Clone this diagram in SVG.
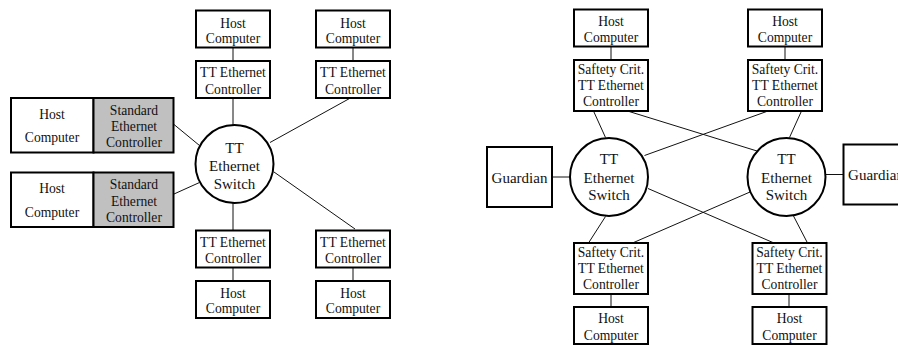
<svg xmlns="http://www.w3.org/2000/svg" width="898" height="346" viewBox="0 0 898 346">
<style>
.b{fill:#fff;stroke:#000;stroke-width:2}
.g{fill:#c0c0c0;stroke:#000;stroke-width:2}
.c{fill:#fff;stroke:#000;stroke-width:2}
.l{stroke:#111;stroke-width:1;fill:none}
text{font-family:'Liberation Serif','DejaVu Serif',serif;font-size:13.6px;fill:#111;text-anchor:middle}
.big{font-size:15px}
</style>
<rect width="898" height="346" fill="#fff"/>
<g id="connectors">
<line class="l" x1="233" y1="47" x2="233" y2="61"/>
<line class="l" x1="353" y1="47" x2="353" y2="61"/>
<line class="l" x1="233" y1="98" x2="233" y2="125"/>
<line class="l" x1="349.5" y1="98.5" x2="270" y2="142.5"/>
<line class="l" x1="174" y1="124.5" x2="199.5" y2="145.5"/>
<line class="l" x1="174" y1="194" x2="199.5" y2="182.5"/>
<line class="l" x1="233" y1="203" x2="233" y2="230"/>
<line class="l" x1="274" y1="172" x2="355" y2="229"/>
<line class="l" x1="233" y1="267" x2="233" y2="281"/>
<line class="l" x1="353" y1="267" x2="353" y2="281"/>
<line class="l" x1="611" y1="46" x2="611" y2="60"/>
<line class="l" x1="785" y1="46" x2="785" y2="60"/>
<line class="l" x1="593.5" y1="111" x2="605.5" y2="137.5"/>
<line class="l" x1="627.5" y1="111" x2="757" y2="151"/>
<line class="l" x1="768" y1="111" x2="644.5" y2="155.5"/>
<line class="l" x1="801.5" y1="111" x2="789.5" y2="137.5"/>
<line class="l" x1="552" y1="177" x2="570" y2="177"/>
<line class="l" x1="825" y1="174.5" x2="843" y2="174.5"/>
<line class="l" x1="648" y1="188.5" x2="774" y2="243"/>
<line class="l" x1="750" y1="192" x2="632.5" y2="243"/>
<line class="l" x1="605.5" y1="216.5" x2="588.5" y2="243"/>
<line class="l" x1="793.5" y1="216" x2="807.5" y2="243"/>
<line class="l" x1="611" y1="294" x2="611" y2="307"/>
<line class="l" x1="789" y1="294" x2="789" y2="307"/>
</g>
<g id="L-host-tl"><rect class="b" x="196" y="10.5" width="74" height="37"/><text x="233" y="27.5">Host</text><text x="233" y="43">Computer</text></g>
<g id="L-ctrl-tl"><rect class="b" x="196" y="61" width="74" height="37"/><text x="233" y="77">TT Ethernet</text><text x="233" y="93.5">Controller</text></g>
<g id="L-host-tr"><rect class="b" x="316" y="10.5" width="74" height="37"/><text x="353" y="27.5">Host</text><text x="353" y="43">Computer</text></g>
<g id="L-ctrl-tr"><rect class="b" x="316" y="61" width="74" height="37"/><text x="353" y="77">TT Ethernet</text><text x="353" y="93.5">Controller</text></g>
<g id="L-std1"><rect class="b" x="11" y="98" width="82.5" height="54.5"/><rect class="g" x="93.5" y="98" width="80" height="54.5"/><text x="52" y="118.5">Host</text><text x="52" y="142">Computer</text><text x="134" y="114.5">Standard</text><text x="134" y="131">Ethernet</text><text x="134" y="147">Controller</text></g>
<g id="L-std2"><rect class="b" x="11" y="172.5" width="82.5" height="54.5"/><rect class="g" x="93.5" y="172.5" width="80" height="54.5"/><text x="52" y="193">Host</text><text x="52" y="216.5">Computer</text><text x="134" y="189">Standard</text><text x="134" y="205.5">Ethernet</text><text x="134" y="221.5">Controller</text></g>
<g id="L-switch"><circle class="c" cx="234.5" cy="164" r="39"/><text class="big" x="234.5" y="153">TT</text><text class="big" x="234.5" y="171">Ethernet</text><text class="big" x="234.5" y="189">Switch</text></g>
<g id="L-ctrl-bl"><rect class="b" x="196" y="230.5" width="74" height="37"/><text x="233" y="246.5">TT Ethernet</text><text x="233" y="263">Controller</text></g>
<g id="L-host-bl"><rect class="b" x="196" y="281" width="74" height="37"/><text x="233" y="297.5">Host</text><text x="233" y="313">Computer</text></g>
<g id="L-ctrl-br"><rect class="b" x="316" y="230.5" width="74" height="37"/><text x="353" y="246.5">TT Ethernet</text><text x="353" y="263">Controller</text></g>
<g id="L-host-br"><rect class="b" x="316" y="281" width="74" height="37"/><text x="353" y="297.5">Host</text><text x="353" y="313">Computer</text></g>
<g id="R-host-tl"><rect class="b" x="574" y="9.5" width="74" height="37"/><text x="611" y="25.5">Host</text><text x="611" y="42">Computer</text></g>
<g id="R-ctrl-tl"><rect class="b" x="574" y="60" width="74" height="51"/><text x="611" y="74">Saftety Crit.</text><text x="611" y="90">TT Ethernet</text><text x="611" y="106">Controller</text></g>
<g id="R-host-tr"><rect class="b" x="748" y="9.5" width="74" height="37"/><text x="785" y="25.5">Host</text><text x="785" y="42">Computer</text></g>
<g id="R-ctrl-tr"><rect class="b" x="748" y="60" width="74" height="51"/><text x="785" y="74">Saftety Crit.</text><text x="785" y="90">TT Ethernet</text><text x="785" y="106">Controller</text></g>
<g id="R-guard-l"><rect class="b" x="487" y="147" width="65" height="60"/><text class="big" x="519.5" y="183">Guardian</text></g>
<g id="R-switch-l"><circle class="c" cx="609" cy="177" r="39"/><text class="big" x="609" y="164">TT</text><text class="big" x="609" y="183">Ethernet</text><text class="big" x="609" y="200">Switch</text></g>
<g id="R-switch-r"><circle class="c" cx="786.5" cy="177" r="39"/><text class="big" x="786.5" y="164">TT</text><text class="big" x="786.5" y="183">Ethernet</text><text class="big" x="786.5" y="200">Switch</text></g>
<g id="R-guard-r"><rect class="b" x="843.5" y="144.5" width="65" height="60"/><text class="big" x="876" y="180">Guardian</text></g>
<g id="R-ctrl-bl"><rect class="b" x="574" y="243" width="74" height="51"/><text x="611" y="257">Saftety Crit.</text><text x="611" y="273">TT Ethernet</text><text x="611" y="289">Controller</text></g>
<g id="R-host-bl"><rect class="b" x="574" y="307" width="74" height="37"/><text x="611" y="323">Host</text><text x="611" y="339.5">Computer</text></g>
<g id="R-ctrl-br"><rect class="b" x="752.5" y="243" width="74" height="51"/><text x="789.5" y="257">Saftety Crit.</text><text x="789.5" y="273">TT Ethernet</text><text x="789.5" y="289">Controller</text></g>
<g id="R-host-br"><rect class="b" x="752.5" y="307" width="74" height="37"/><text x="789.5" y="323">Host</text><text x="789.5" y="339.5">Computer</text></g>
</svg>
